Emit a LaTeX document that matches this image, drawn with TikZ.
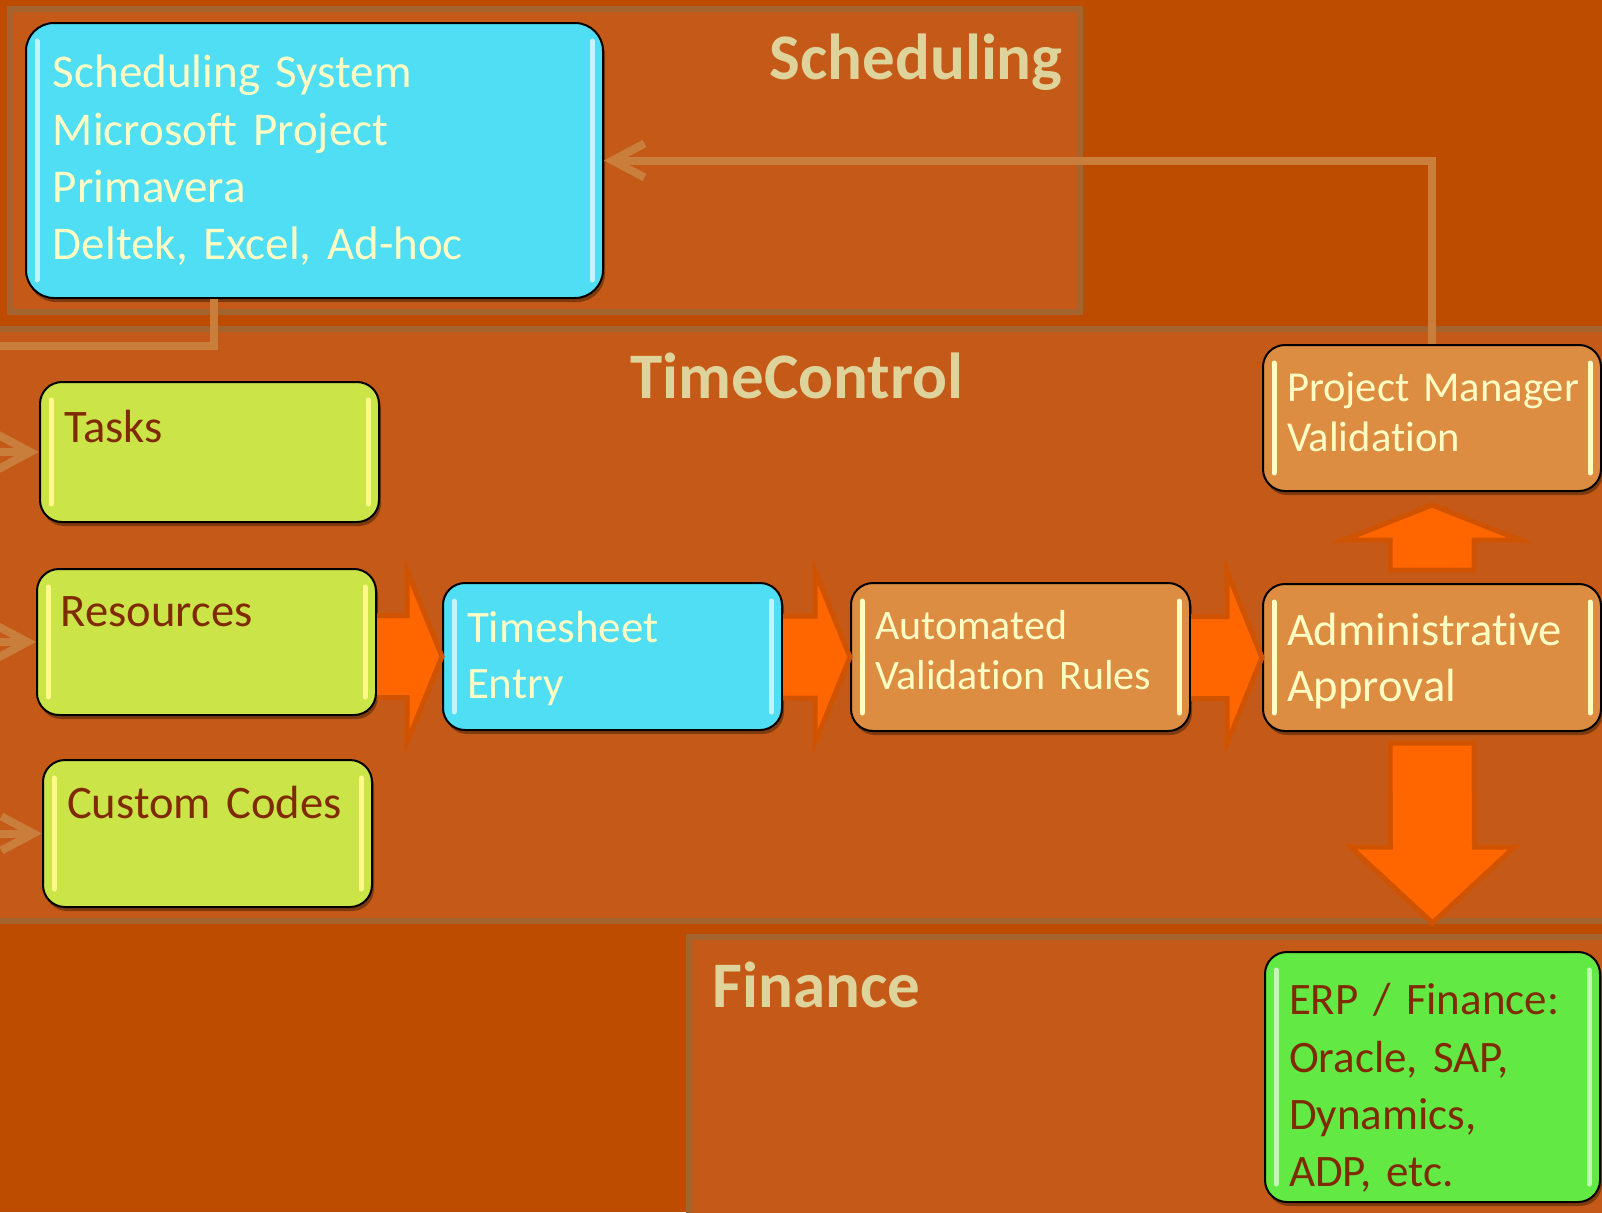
\documentclass[tikz,border=0pt]{standalone}
\usepackage{fontspec}
\setmainfont{Carlito}[Ligatures=NoCommon]
\usepackage{tikz}
\usetikzlibrary{calc,arrows.meta,shadows}
\definecolor{bg}{HTML}{BE4C00}
\definecolor{panel}{HTML}{C55A18}
\definecolor{rim}{HTML}{A3642F}
\definecolor{connc}{HTML}{C97E3C}
\definecolor{title}{HTML}{DED39A}
\definecolor{cyanbox}{HTML}{4FDEF3}
\definecolor{limebox}{HTML}{CBE548}
\definecolor{orangebox}{HTML}{DD8D41}
\definecolor{greenbox}{HTML}{63E944}
\definecolor{lighttext}{HTML}{FFFDC4}
\definecolor{darktext}{HTML}{802A00}
\definecolor{blkfill}{HTML}{FF6600}
\definecolor{blkedge}{HTML}{CF5300}
\tikzset{
  panelbox/.style={fill=panel, draw=rim, line width=3pt},
  box/.style={rectangle, rounded corners=11pt, draw=black, line width=1pt,
    align=left, inner xsep=12pt,
    drop shadow={shadow xshift=1pt, shadow yshift=-2pt, opacity=.35, fill=black}},
  gloss/.style={path picture={
    \draw[#1, line width=2.5pt, line cap=round]
      ([xshift=5.5pt,yshift=-9pt]path picture bounding box.north west) --
      ([xshift=5.5pt,yshift=9pt]path picture bounding box.south west)
      ([xshift=-5.5pt,yshift=-9pt]path picture bounding box.north east) --
      ([xshift=-5.5pt,yshift=9pt]path picture bounding box.south east);}},
  cyanb/.style={box, fill=cyanbox, text=lighttext, gloss=white!65!cyanbox},
  limeb/.style={box, fill=limebox, text=darktext, gloss=white!55!yellow},
  orangeb/.style={box, fill=orangebox, text=lighttext, gloss=lighttext},
  greenb/.style={box, fill=greenbox, text=darktext, gloss=white!60!greenbox},
  conn/.style={draw=connc, line width=4pt},
  barb/.style={-{Straight Barb[length=16pt, width=17pt]}},
  blk/.style={fill=blkfill, draw=blkedge, line width=2.5pt, line join=miter},
  ttl/.style={text=title, inner sep=0pt, font=\fontsize{32.5pt}{39pt}\selectfont\bfseries}
}
\begin{document}
\begin{tikzpicture}[x=0.5pt, y=-0.5pt]
  \useasboundingbox (0,0) rectangle (1602,1212);
  \fill[bg] (0,0) rectangle (1602,1212);

  % swim lanes
  \draw[panelbox] (10,9) rectangle (1080,312);
  \draw[panelbox] (-10,329) rectangle (1612,921);
  \draw[panelbox] (689,937) rectangle (1612,1222);

  \node[ttl, anchor=base east] (schedttl) at (1063,79) {Scheduling};
  \node[ttl, anchor=base west] (tcttl) at (630,398) {TimeControl};
  \node[ttl, anchor=base west] (finttl) at (712,1007) {Finance};

  % boxes
  \node[cyanb, rounded corners=14pt, inner xsep=13.5pt, text width=261.5pt, minimum height=137.5pt,
    font=\fontsize{23.5pt}{28.7pt}\selectfont] (sched) at (314.5,160.5)
    {Scheduling System\\Microsoft Project\\Primavera\\Deltek, Excel, Ad-hoc};

  \node[limeb, text width=145.5pt, minimum height=70pt, text depth=26pt,
    font=\fontsize{23.3pt}{28pt}\selectfont] (tasks) at (209.5,452) {Tasks};
  \node[limeb, text width=145.5pt, minimum height=73pt, text depth=30pt,
    font=\fontsize{23.3pt}{28pt}\selectfont] (res) at (206.5,642) {Resources};
  \node[limeb, text width=140.5pt, minimum height=73.5pt, text depth=31.5pt,
    font=\fontsize{23.3pt}{28pt}\selectfont] (cust) at (207.5,833.5) {Custom Codes};

  \node[cyanb, text width=145.5pt, minimum height=73.5pt, text depth=29.5pt,
    font=\fontsize{22.5pt}{28pt}\selectfont] (ts) at (612.5,656.5) {Timesheet\\Entry};
  \node[orangeb, text width=145.5pt, minimum height=74pt, text depth=32pt,
    font=\fontsize{21pt}{25pt}\selectfont] (auto) at (1020.5,657) {Automated\\Validation Rules};
  \node[orangeb, text width=145pt, minimum height=73.5pt, text depth=28.5pt,
    font=\fontsize{23.3pt}{28pt}\selectfont] (adm) at (1432,657.5) {Administrative\\Approval};
  \node[orangeb, text width=145pt, minimum height=73pt, text depth=31pt,
    font=\fontsize{21.3pt}{25pt}\selectfont] (pm) at (1432,418) {\mbox{Project Manager}\\Validation};
  \node[greenb, text width=143.5pt, minimum height=125pt, text depth=78pt,
    font=\fontsize{22.5pt}{28.7pt}\selectfont] (erp) at (1432.5,1077)
    {ERP / Finance:\\Oracle, SAP,\\Dynamics,\\ADP, etc.};

  % connectors
  \coordinate (bus) at (-30,346);
  \draw[conn] ($(sched.south west)+(189,0)$) |- (bus) -- (bus |- cust.west);
  \foreach \n in {tasks,res,cust}
    \draw[conn,barb] (bus |- \n.west) -- (\n.west);
  \draw[conn,barb] (pm.north) |- (sched.east);

  % block arrows
  \foreach \a/\b in {res/ts, ts/auto, auto/adm}
    \draw[blk] ($(\a.east|-\b.west)+(0,-41)$) -- ($(\b.west)+(-35,-41)$)
      -- ($(\b.west)+(-35,-86)$) -- (\b.west) -- ($(\b.west)+(-35,86)$)
      -- ($(\b.west)+(-35,41)$) -- ($(\a.east|-\b.west)+(0,41)$);
  \draw[blk] ($(adm.north)+(-42,-13)$) -- ($(pm.south)+(-42,48)$)
    -- ($(pm.south)+(-88,48)$) -- ($(pm.south)+(0,13)$) -- ($(pm.south)+(88,48)$)
    -- ($(pm.south)+(42,48)$) -- ($(adm.north)+(42,-13)$) -- cycle;
  \draw[blk] ($(adm.south)+(-42,11)$) -- ($(erp.north)+(-42,-104)$)
    -- ($(erp.north)+(-82,-104)$) -- ($(erp.north)+(0,-28)$) -- ($(erp.north)+(82,-104)$)
    -- ($(erp.north)+(42,-104)$) -- ($(adm.south)+(42,11)$) -- cycle;
\end{tikzpicture}
\end{document}
